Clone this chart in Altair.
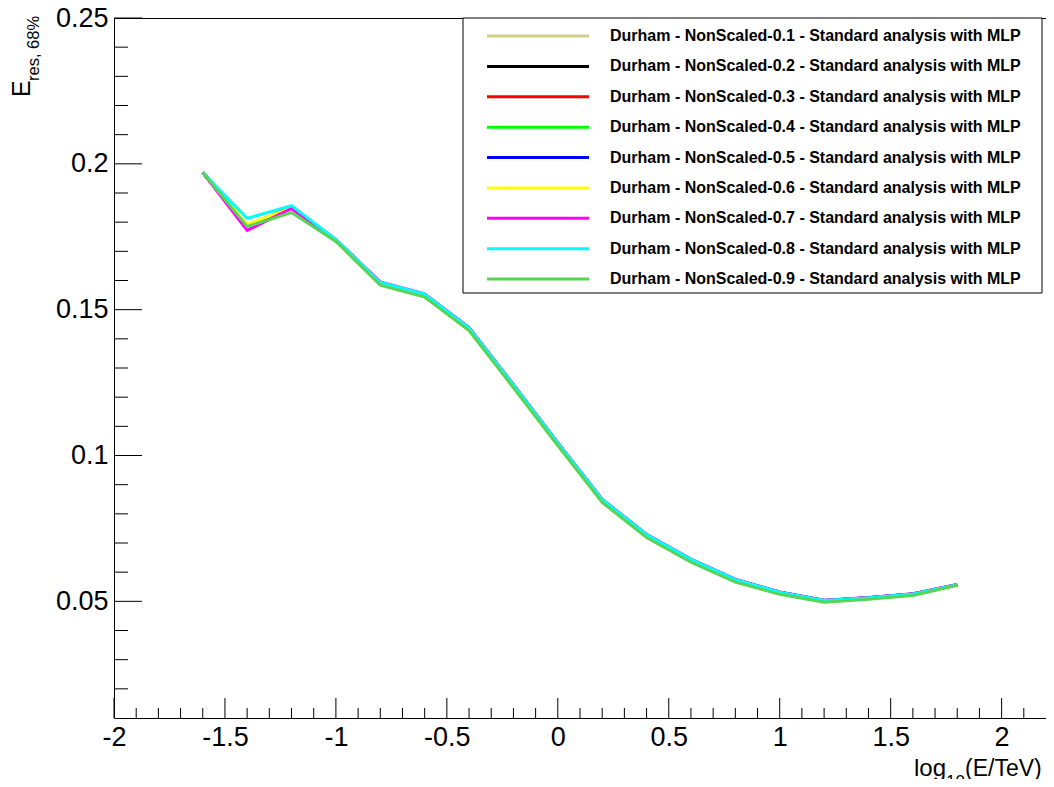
import altair as alt
import pandas as pd

# ---------------- data ----------------
x_vals = [-1.6, -1.4, -1.2, -1.0, -0.8, -0.6, -0.4, -0.2, 0.0, 0.2, 0.4, 0.6, 0.8, 1.0, 1.2, 1.4, 1.6, 1.8]

series_labels = [
    "Durham - NonScaled-0.1 - Standard analysis with MLP",
    "Durham - NonScaled-0.2 - Standard analysis with MLP",
    "Durham - NonScaled-0.3 - Standard analysis with MLP",
    "Durham - NonScaled-0.4 - Standard analysis with MLP",
    "Durham - NonScaled-0.5 - Standard analysis with MLP",
    "Durham - NonScaled-0.6 - Standard analysis with MLP",
    "Durham - NonScaled-0.7 - Standard analysis with MLP",
    "Durham - NonScaled-0.8 - Standard analysis with MLP",
    "Durham - NonScaled-0.9 - Standard analysis with MLP",
]
series_colors = ["#d4cf87", "#000000", "#ff0000", "#00ff00", "#0000ff",
                 "#ffff00", "#ff00ff", "#00ffff", "#59d454"]

s01 = [0.1970, 0.1789, 0.1850, 0.1738, 0.1592, 0.1551, 0.1436, 0.1240, 0.1041, 0.0847, 0.0727, 0.0642, 0.0573, 0.0530, 0.0502, 0.0512, 0.0525, 0.0557]
s02 = [0.1970, 0.1788, 0.1851, 0.1739, 0.1593, 0.1552, 0.1437, 0.1241, 0.1042, 0.0848, 0.0728, 0.0643, 0.0574, 0.0531, 0.0503, 0.0512, 0.0525, 0.0557]
s03 = [0.1970, 0.1787, 0.1849, 0.1738, 0.1592, 0.1551, 0.1436, 0.1240, 0.1041, 0.0847, 0.0727, 0.0642, 0.0573, 0.0530, 0.0502, 0.0511, 0.0524, 0.0557]
s04 = [0.1970, 0.1786, 0.1848, 0.1737, 0.1591, 0.1550, 0.1435, 0.1239, 0.1040, 0.0846, 0.0726, 0.0641, 0.0572, 0.0529, 0.0501, 0.0511, 0.0524, 0.0556]
s05 = [0.1970, 0.1788, 0.1850, 0.1738, 0.1593, 0.1552, 0.1437, 0.1241, 0.1042, 0.0848, 0.0728, 0.0643, 0.0574, 0.0531, 0.0503, 0.0512, 0.0525, 0.0557]
s06 = [0.1970, 0.1792, 0.1849, 0.1738, 0.1592, 0.1551, 0.1436, 0.1240, 0.1041, 0.0847, 0.0727, 0.0642, 0.0573, 0.0530, 0.0502, 0.0511, 0.0524, 0.0557]
s07 = [0.1970, 0.1772, 0.1847, 0.1740, 0.1595, 0.1554, 0.1439, 0.1243, 0.1044, 0.0850, 0.0730, 0.0645, 0.0576, 0.0532, 0.0504, 0.0513, 0.0526, 0.0558]
s08 = [0.1970, 0.1813, 0.1857, 0.1740, 0.1594, 0.1553, 0.1438, 0.1242, 0.1043, 0.0849, 0.0729, 0.0644, 0.0575, 0.0531, 0.0503, 0.0512, 0.0525, 0.0557]
s09 = [0.1970, 0.1785, 0.1833, 0.1734, 0.1584, 0.1543, 0.1428, 0.1232, 0.1034, 0.0839, 0.0719, 0.0634, 0.0566, 0.0524, 0.0497, 0.0507, 0.0520, 0.0555]
series_values = [s01, s02, s03, s04, s05, s06, s07, s08, s09]

x_major = [-2, -1.5, -1, -0.5, 0, 0.5, 1, 1.5, 2]
x_minor = [-1.9, -1.8, -1.7, -1.6, -1.4, -1.3, -1.2, -1.1, -0.9, -0.8, -0.7, -0.6,
           -0.4, -0.3, -0.2, -0.1, 0.1, 0.2, 0.3, 0.4, 0.6, 0.7, 0.8, 0.9,
           1.1, 1.2, 1.3, 1.4, 1.6, 1.7, 1.8, 1.9, 2.1]
y_major = [0.05, 0.1, 0.15, 0.2, 0.25]
y_minor = [0.02, 0.03, 0.04, 0.06, 0.07, 0.08, 0.09, 0.11, 0.12, 0.13, 0.14,
           0.16, 0.17, 0.18, 0.19, 0.21, 0.22, 0.23, 0.24]

FONT = "Liberation Sans"
W, H = 932, 700

xscale = alt.Scale(domain=[-2, 2.2], nice=False, zero=False)
yscale = alt.Scale(domain=[0.01, 0.25], nice=False, zero=False)

xaxis = alt.Axis(values=x_major, labelExpr="'' + datum.value", ticks=False, domain=False,
                 grid=False, labelFont=FONT, labelFontSize=27, labelColor="black",
                 labelPadding=6, labelFlush=False, labelOverlap=False, title=None)
yaxis = alt.Axis(values=y_major, labelExpr="'' + datum.value", ticks=False, domain=False,
                 grid=False, labelFont=FONT, labelFontSize=27, labelColor="black",
                 labelPadding=6, labelFlush=False, labelOverlap=False, title=None)

# ---------------- data lines ----------------
line_layers = []
for lab, col, vals in zip(series_labels, series_colors, series_values):
    d = pd.DataFrame({"x": x_vals, "y": vals})
    line_layers.append(
        alt.Chart(d).mark_line(color=col, strokeWidth=3).encode(
            x=alt.X("x:Q", scale=xscale, axis=xaxis),
            y=alt.Y("y:Q", scale=yscale, axis=yaxis),
        )
    )

# ---------------- inward ticks ----------------
def yticks(vals, length):
    return alt.Chart(pd.DataFrame({"v": vals})).mark_rule(color="black", strokeWidth=1).encode(
        y=alt.Y("v:Q", scale=yscale, axis=yaxis), x=alt.value(0), x2=alt.value(length))

def xticks(vals, length):
    return alt.Chart(pd.DataFrame({"v": vals})).mark_rule(color="black", strokeWidth=1).encode(
        x=alt.X("v:Q", scale=xscale, axis=xaxis), y=alt.value(H), y2=alt.value(H - length))

main = alt.layer(*line_layers, yticks(y_major, 28), yticks(y_minor, 14),
                 xticks(x_major, 20), xticks(x_minor, 10))

# ---------------- legend ----------------
leg_df = pd.DataFrame({"label": series_labels, "color": series_colors})
leg_y = alt.Y("label:N", scale=alt.Scale(type="point", domain=series_labels, range=[18, 261], padding=0), axis=None)
leg_color = alt.Color("label:N", scale=alt.Scale(domain=series_labels, range=series_colors), legend=None)

box = alt.Chart(pd.DataFrame({"a": [0]})).mark_rect(fill="white", stroke="black", strokeWidth=1).encode(
    x=alt.value(349), x2=alt.value(928), y=alt.value(0), y2=alt.value(275))
leg_lines = alt.Chart(leg_df).mark_rule(strokeWidth=3).encode(
    x=alt.value(373), x2=alt.value(475), y=leg_y, color=leg_color)
leg_text = alt.Chart(leg_df).mark_text(align="left", baseline="middle", font=FONT, fontWeight="bold",
                                       fontSize=16, color="black").encode(
    x=alt.value(496), y=leg_y, text="label:N")
legend = alt.layer(box, leg_lines, leg_text)

# ---------------- axis titles ----------------
one = pd.DataFrame({"a": [0]})
t_E = alt.Chart(one).mark_text(text="E", angle=270, align="left", baseline="alphabetic",
                               font=FONT, fontSize=25, color="black").encode(x=alt.value(-84), y=alt.value(79))
t_Esub = alt.Chart(one).mark_text(text="res, 68%", angle=270, align="left", baseline="alphabetic",
                                  font=FONT, fontSize=16.5, color="black").encode(x=alt.value(-75), y=alt.value(63))
t_log = alt.Chart(one).mark_text(text="log", align="left", baseline="alphabetic",
                                 font=FONT, fontSize=24, color="black").encode(x=alt.value(800), y=alt.value(758))
t_10 = alt.Chart(one).mark_text(text="10", align="left", baseline="alphabetic",
                                font=FONT, fontSize=17, color="black").encode(x=alt.value(832), y=alt.value(769))
t_rest = alt.Chart(one).mark_text(text="(E/TeV)", align="left", baseline="alphabetic",
                                  font=FONT, fontSize=23, color="black").encode(x=alt.value(851), y=alt.value(758))
titles = alt.layer(t_E, t_Esub, t_log, t_10, t_rest)

chart = alt.layer(main, legend, titles).resolve_scale(
    y="independent", color="independent"
).properties(
    width=W, height=H,
    autosize=alt.AutoSizeParams(type="none"),
    padding={"left": 106, "top": 10, "right": 0, "bottom": 61},
).configure_view(stroke="black", strokeWidth=1)

chart.save("out.html", embed_options={"renderer": "svg", "actions": False})
